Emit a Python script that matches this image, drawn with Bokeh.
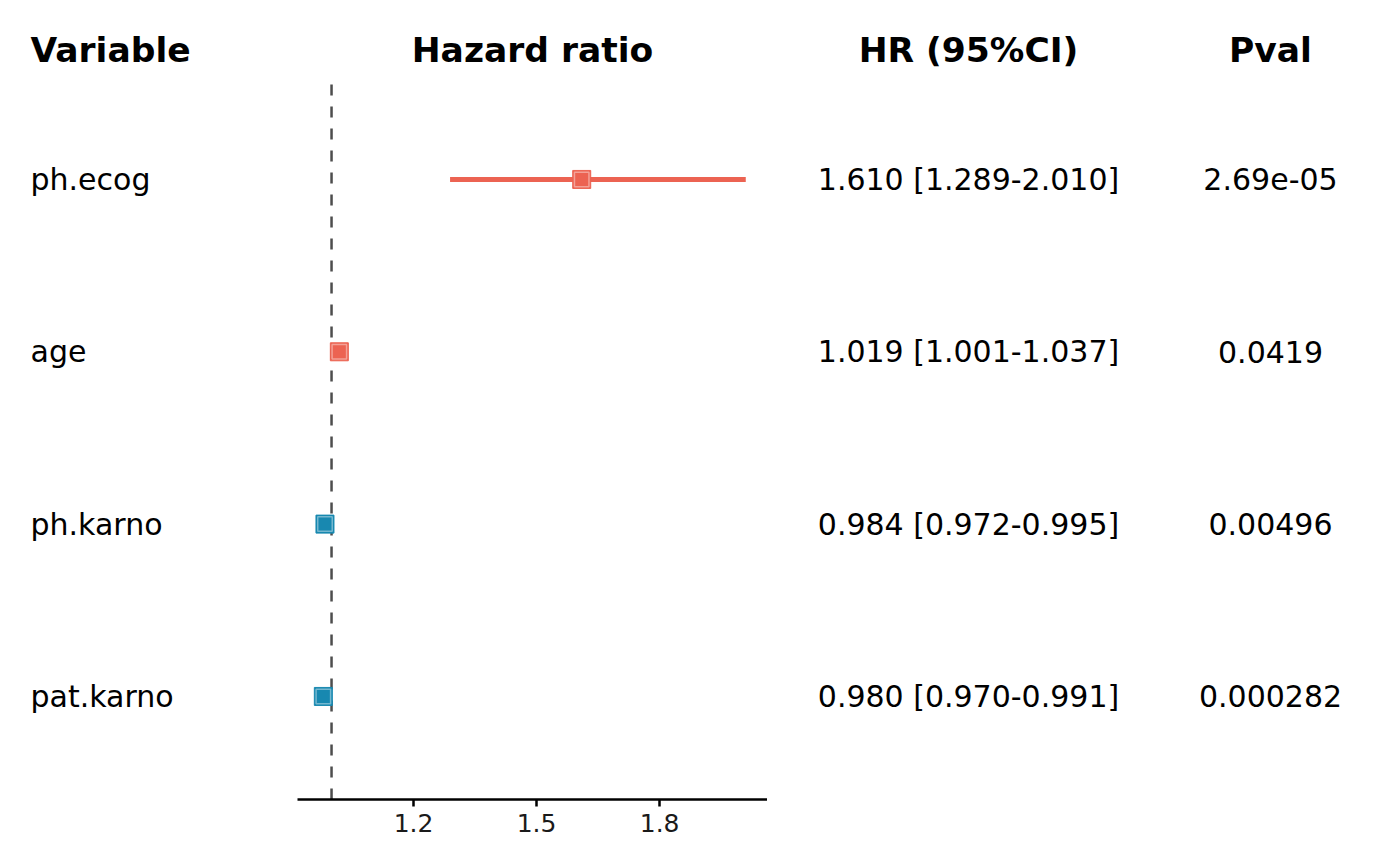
from bokeh.plotting import figure
from bokeh.layouts import row
from bokeh.models import Range1d, FixedTicker, ColumnDataSource
from bokeh.core.properties import value
from bokeh.embed import file_html
from bokeh.resources import INLINE

# ---- data ----
variables = ["ph.ecog", "age", "ph.karno", "pat.karno"]
hr = [1.610, 1.019, 0.984, 0.980]
ci_low = [1.289, 1.001, 0.972, 0.970]
ci_high = [2.010, 1.037, 0.995, 0.991]
pvals = ["2.69e-05", "0.0419", "0.00496", "0.000282"]
headers = ["Variable", "Hazard ratio", "HR (95%CI)", "Pval"]
x_ticks = [1.2, 1.5, 1.8]

# ---- derived ----
n = len(variables)
ypos = list(range(n, 0, -1))
hr_labels = [f"{h:.3f} [{l:.3f}-{u:.3f}]" for h, l, u in zip(hr, ci_low, ci_high)]
RED = "#EC6352"
BLUE = "#1888B0"
colors = [RED if h > 1 else BLUE for h in hr]

FONT = value("DejaVu Sans")
BODY = "30px"
HEAD = "34.5px"
TOP = 8
BOTTOM = 59
FRAME_H = 791
H = TOP + FRAME_H + BOTTOM
Y_RANGE = (0.402, 4.992)
HEAD_Y = 4.749
VLINE_TOP = 4.563
X_RANGE = (0.917, 2.063)

src = ColumnDataSource(dict(y=ypos, var=variables, hr=hr, lo=ci_low, hi=ci_high,
                            lab=hr_labels, p=pvals, col=colors))


def base(width, xr):
    f = figure(width=width, height=H, x_range=Range1d(*xr), y_range=Range1d(*Y_RANGE),
               toolbar_location=None, output_backend="svg", min_border=0,
               min_border_bottom=BOTTOM, min_border_top=TOP)
    f.outline_line_color = None
    f.xgrid.visible = False
    f.ygrid.visible = False
    f.yaxis.visible = False
    f.xaxis.visible = False
    f.background_fill_color = "white"
    f.border_fill_color = "white"
    return f


# Variable column
W1 = 297
f1 = base(W1, (0, W1))
f1.text(x=30, y="y", text="var", source=src, text_font=FONT, text_font_size=BODY,
        text_baseline="middle", text_align="left", text_color="black")
f1.text(x=[30], y=[HEAD_Y], text=[headers[0]], text_font=FONT, text_font_size=HEAD,
        text_font_style="bold", text_baseline="middle", text_align="left", text_color="black")

# Forest panel
W2 = 470
f2 = base(W2, X_RANGE)
f2.xaxis.visible = True
f2.xaxis.ticker = FixedTicker(ticks=x_ticks)
f2.xaxis.axis_line_width = 2.5
f2.xaxis.axis_line_color = "black"
f2.xaxis.major_tick_line_width = 2.5
f2.xaxis.major_tick_line_color = "black"
f2.xaxis.major_tick_out = 7
f2.xaxis.major_tick_in = 0
f2.xaxis.minor_tick_line_color = None
f2.xaxis.major_label_text_font = "DejaVu Sans"
f2.xaxis.major_label_text_font_size = "25px"
f2.xaxis.major_label_text_color = "#1a1a1a"
f2.xaxis.major_label_standoff = 7
f2.segment(x0=[1], x1=[1], y0=[Y_RANGE[0]], y1=[VLINE_TOP], line_color="#4d4d4d",
           line_width=2.5, line_dash="11 11")
f2.segment(x0="lo", x1="hi", y0="y", y1="y", source=src, line_color="col", line_width=5)
f2.scatter(x="hr", y="y", source=src, marker="square", size=18, fill_color="col",
           line_color="col", line_width=1)
f2.scatter(x="hr", y="y", source=src, marker="square", size=14.5, fill_color=None,
           line_color="white", line_alpha=0.4, line_width=1.5)
f2.text(x=[sum(X_RANGE) / 2], y=[HEAD_Y], text=[headers[1]], text_font=FONT,
        text_font_size=HEAD, text_font_style="bold", text_baseline="middle",
        text_align="center", text_color="black")

# HR column
W3 = 402
f3 = base(W3, (0, W3))
f3.text(x=W3 / 2, y="y", text="lab", source=src, text_font=FONT, text_font_size=BODY,
        text_baseline="middle", text_align="center", text_color="black")
f3.text(x=[W3 / 2], y=[HEAD_Y], text=[headers[2]], text_font=FONT, text_font_size=HEAD,
        text_font_style="bold", text_baseline="middle", text_align="center", text_color="black")

# Pval column
W4 = 202
f4 = base(W4, (0, W4))
f4.text(x=W4 / 2, y="y", text="p", source=src, text_font=FONT, text_font_size=BODY,
        text_baseline="middle", text_align="center", text_color="black")
f4.text(x=[W4 / 2], y=[HEAD_Y], text=[headers[3]], text_font=FONT, text_font_size=HEAD,
        text_font_style="bold", text_baseline="middle", text_align="center", text_color="black")

layout = row(f1, f2, f3, f4, spacing=0)
open("out.html", "w").write(file_html(layout, INLINE))
